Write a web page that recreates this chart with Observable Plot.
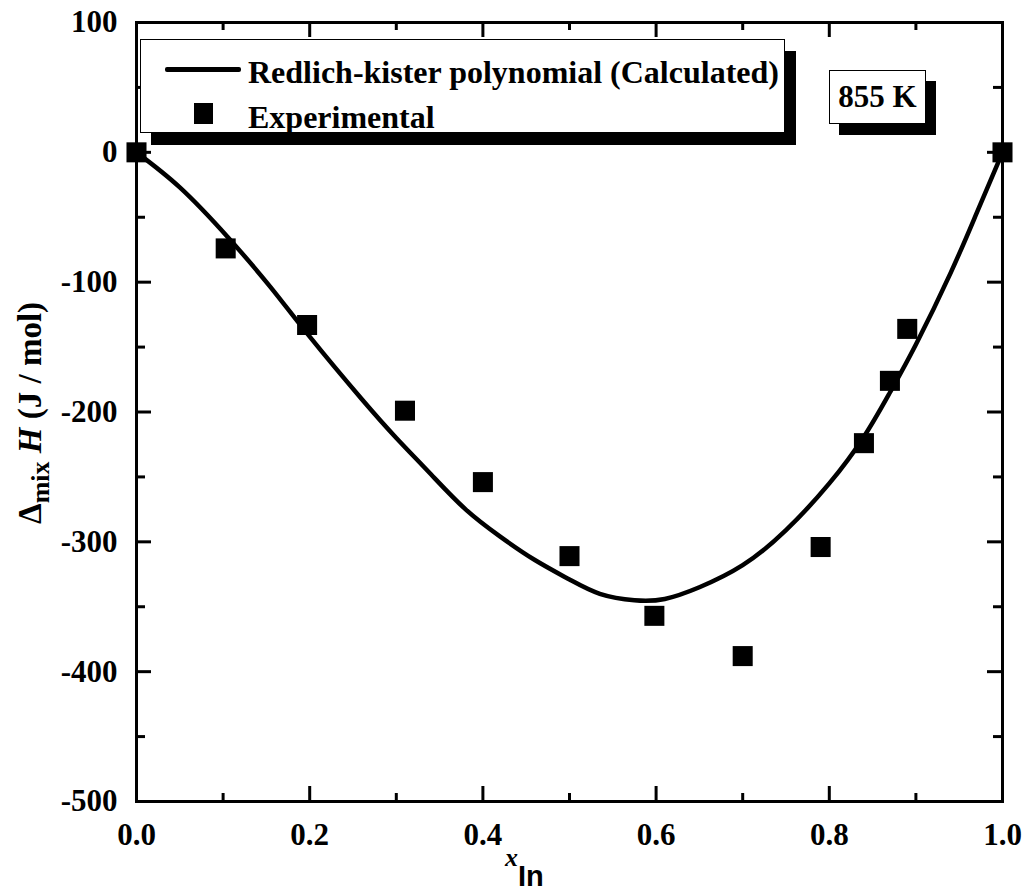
<!DOCTYPE html>
<html>
<head>
<meta charset="utf-8">
<script src="https://cdn.jsdelivr.net/npm/d3@7"></script>
<script src="https://cdn.jsdelivr.net/npm/@observablehq/plot@0.6"></script>
<style>
  html, body { margin: 0; padding: 0; background: #fff; }
  #wrap { position: relative; width: 1031px; height: 892px; font-family: "Liberation Serif", "Times New Roman", Times, "Nimbus Roman", "DejaVu Serif", serif; font-weight: bold; color: #000; }
  #legend { position: absolute; left: 140px; top: 39px; width: 643px; height: 92px; background: #fff; border: 1.5px solid #000; box-shadow: 11px 12px 0 #000; }
  .lrow { position: absolute; left: 0; font-size: 32px; line-height: 1; white-space: nowrap; }
  .lline { position: absolute; left: 24px; top: 27px; width: 76px; height: 5px; background: #000; border-radius: 2px; }
  .lsq { position: absolute; left: 53px; top: 63px; width: 19px; height: 21px; background: #000; }
  #temp { position: absolute; left: 829px; top: 70px; width: 95px; height: 52px; background: #fff; border: 1.5px solid #000; box-shadow: 10px 11px 0 #000; font-size: 31px; text-align: center; line-height: 52px; }
</style>
</head>
<body>
<div id="wrap"></div>
<script>
// Experimental data (x_In, ΔmixH in J/mol)
const expX = [0, 0.103, 0.197, 0.31, 0.40, 0.50, 0.598, 0.70, 0.79, 0.84, 0.87, 0.89, 1.0];
const expY = [0, -74, -133, -199, -254, -311, -357, -388, -304, -224, -176, -136, 0];

// Redlich-Kister curve
const calcX = [0, 0.05, 0.105, 0.155, 0.20, 0.26, 0.30, 0.34, 0.38, 0.42, 0.46, 0.50, 0.535, 0.575, 0.61, 0.65, 0.70, 0.75, 0.80, 0.84, 0.87, 0.90, 0.94, 0.97, 1.0];
const calcY = [0, -27, -65, -104, -142, -190, -220, -248, -275, -296, -314, -329, -340, -345, -344, -335, -318, -291, -255, -219, -185, -148, -93, -47, 0];

const xMajor = [0, 0.2, 0.4, 0.6, 0.8, 1.0];
const xMinor = [0.1, 0.3, 0.5, 0.7, 0.9];
const yMajor = [100, 0, -100, -200, -300, -400, -500];
const yMinor = [50, -50, -150, -250, -350, -450];

const legendLabels = ["Redlich-kister polynomial (Calculated)", "Experimental"];
const tempLabel = "855 K";

const FONT = '"Liberation Serif", "Times New Roman", Times, "Nimbus Roman", "DejaVu Serif", serif';
const W = 1031, H = 892, mL = 136, mR = 29, mT = 22, mB = 91;
const innerW = W - mL - mR, innerH = H - mT - mB;

const expData = expX.map((x, i) => ({x, y: expY[i]}));
const calcData = calcX.map((x, i) => ({x, y: calcY[i]}));

const chart = Plot.plot({
  width: W, height: H,
  marginLeft: mL, marginRight: mR, marginTop: mT, marginBottom: mB,
  style: {fontFamily: FONT, fontWeight: "bold", background: "#fff", color: "#000"},
  x: {domain: [0, 1]},
  y: {domain: [-500, 100]},
  marks: [
    Plot.tickX(xMajor, {x: d => d, insetTop: innerH - 15, strokeWidth: 3}),
    Plot.tickX(xMinor, {x: d => d, insetTop: innerH - 8, strokeWidth: 3}),
    Plot.tickX(xMajor, {x: d => d, insetBottom: innerH - 15, strokeWidth: 3}),
    Plot.tickX(xMinor, {x: d => d, insetBottom: innerH - 8, strokeWidth: 3}),
    Plot.tickY(yMajor, {y: d => d, insetRight: innerW - 15, strokeWidth: 3}),
    Plot.tickY(yMinor, {y: d => d, insetRight: innerW - 9, strokeWidth: 3}),
    Plot.tickY(yMajor, {y: d => d, insetLeft: innerW - 15, strokeWidth: 3}),
    Plot.tickY(yMinor, {y: d => d, insetLeft: innerW - 9, strokeWidth: 3}),
    Plot.axisX({ticks: xMajor, tickSize: 0, tickPadding: 21, tickFormat: d => d.toFixed(1), fontSize: 31, fontWeight: "bold", fontFamily: FONT, label: null}),
    Plot.axisY({ticks: yMajor, tickSize: 0, tickPadding: 19, tickFormat: d => String(d), fontSize: 31, fontWeight: "bold", fontFamily: FONT, label: null}),
    Plot.line(calcData, {x: "x", y: "y", curve: "natural", strokeWidth: 4.5, stroke: "#000"}),
    Plot.dot(expData, {x: "x", y: "y", symbol: "square", r: 11.3, fill: "#000", stroke: "none"}),
    Plot.frame({strokeWidth: 3, stroke: "#000"})
  ]
});

const wrap = document.getElementById("wrap");
wrap.appendChild(chart);
chart.style.position = "absolute";
chart.style.left = "0px";
chart.style.top = "0px";

const svg = d3.select(chart);
// Y axis label: Δmix H (J / mol)
const yl = svg.append("text")
  .attr("transform", "translate(41,413) rotate(-90)")
  .attr("text-anchor", "middle")
  .attr("font-size", 33)
  .attr("font-weight", "bold")
  .attr("font-family", FONT)
  .attr("fill", "#000");
yl.append("tspan").text("Δ");
yl.append("tspan").attr("dy", 8).attr("font-size", 26).text("mix");
yl.append("tspan").attr("dy", -8).text(" ");
yl.append("tspan").attr("font-style", "italic").text("H");
yl.append("tspan").text(" (J / mol)");

// X axis label: x_In
const xl = svg.append("text")
  .attr("x", 505).attr("y", 866)
  .attr("text-anchor", "start")
  .attr("font-family", FONT)
  .attr("font-weight", "bold")
  .attr("fill", "#000");
xl.append("tspan").attr("font-style", "italic").attr("font-size", 26).text("x");
xl.append("tspan").attr("dy", 20).attr("font-size", 29).attr("font-family", '"Liberation Sans", Arimo, sans-serif').text("In");

// Legend
const legend = document.createElement("div");
legend.id = "legend";
legend.innerHTML = `<div class="lline"></div><div class="lrow" style="left:107px;top:16px">${legendLabels[0]}</div>
<div class="lsq"></div><div class="lrow" style="left:107px;top:61px">${legendLabels[1]}</div>`;
wrap.appendChild(legend);

const temp = document.createElement("div");
temp.id = "temp";
temp.textContent = tempLabel;
wrap.appendChild(temp);
</script>
</body>
</html>
